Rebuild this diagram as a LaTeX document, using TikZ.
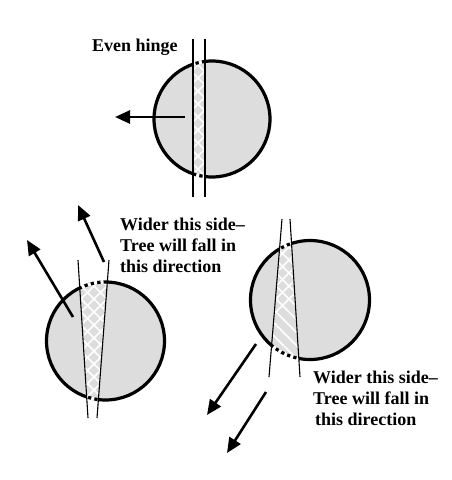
\documentclass[tikz,border=0pt]{standalone}
\usepackage{fontspec}
\setmainfont{Liberation Serif}
\usetikzlibrary{arrows.meta}
\definecolor{woodgray}{RGB}{221,221,221}
\tikzset{
  trunk/.style={fill=woodgray},
  rim/.style={draw=black, line width=3.2pt},
  rimgap/.style={draw=white, line width=3.8pt, dash pattern=on 3pt off 3.5pt},
  cutline/.style={draw=black, line width=1.1pt},
  hatch/.style={draw=white, line width=1.6pt},
  fallarrow/.style={draw=black, line width=2.6pt, -{Triangle[length=15pt,width=13pt]}},
  lbl/.style={font=\bfseries\fontsize{18}{21}\selectfont, inner sep=0pt, align=left}
}
\begin{document}
\begin{tikzpicture}[x=1pt,y=-1pt]
\useasboundingbox (0,0) rectangle (451,480);

% ---------- top circle: even hinge ----------
\coordinate (c1) at (212,119);
\coordinate (a1t) at (193,39); \coordinate (a1b) at (193,197);
\coordinate (b1t) at (205,39); \coordinate (b1b) at (205,197);
\fill[trunk] (c1) circle (58);
\begin{scope}
  \clip (c1) circle (58);
  \clip (a1t) -- (b1t) -- (b1b) -- (a1b) -- cycle;
  \foreach \i in {-400,-387,...,600} {
    \draw[hatch] (\i,0) -- ++(480,480);
    \draw[hatch] (\i,0) -- ++(-480,480);
  }
\end{scope}
\draw[rim] (c1) circle (58);
\begin{scope}
  \clip (a1t) -- (b1t) -- (b1b) -- (a1b) -- cycle;
  \draw[rimgap] (c1) circle (58);
\end{scope}
\draw[cutline] (a1t) -- (a1b);
\draw[cutline] (b1t) -- (b1b);
\coordinate (f1s) at (185,117); \coordinate (f1e) at (115,117);
\draw[fallarrow] (f1s) -- (f1e);
\node[lbl, anchor=base west] (even) at (92,51) {Even hinge};

% ---------- bottom-left circle ----------
\coordinate (c2) at (105.5,341);
\coordinate (a2t) at (78,260); \coordinate (a2b) at (88,418);
\coordinate (b2t) at (109,260); \coordinate (b2b) at (97,418);
\fill[trunk] (c2) circle (59);
\begin{scope}
  \clip (c2) circle (59);
  \clip (a2t) -- (b2t) -- (b2b) -- (a2b) -- cycle;
  \foreach \i in {-400,-387,...,600} {
    \draw[hatch] (\i,0) -- ++(480,480);
    \draw[hatch] (\i,0) -- ++(-480,480);
  }
\end{scope}
\draw[rim] (c2) circle (59);
\begin{scope}
  \clip (a2t) -- (b2t) -- (b2b) -- (a2b) -- cycle;
  \draw[rimgap] (c2) circle (59);
\end{scope}
\draw[cutline] (a2t) -- (a2b);
\draw[cutline] (b2t) -- (b2b);
\coordinate (f2s) at (73,317); \coordinate (f2e) at (27,240);
\coordinate (f3s) at (104,262); \coordinate (f3e) at (78,205);
\draw[fallarrow] (f2s) -- (f2e);
\draw[fallarrow] (f3s) -- (f3e);
\node[lbl, anchor=north west] (wl) at (120,217.5) {Wider this side--\\Tree will fall in\\this direction};

% ---------- bottom-right circle ----------
\coordinate (c3) at (310,300);
\coordinate (a3t) at (282,219); \coordinate (a3b) at (269,377);
\coordinate (b3t) at (290,219); \coordinate (b3b) at (300,377);
\fill[trunk] (c3) circle (59.5);
\begin{scope}
  \clip (c3) circle (59.5);
  \clip (a3t) -- (b3t) -- (b3b) -- (a3b) -- cycle;
  \foreach \i in {-400,-387,...,600} {
    \draw[hatch] (\i,0) -- ++(480,480);
    \draw[hatch] (\i,0) -- ++(-480,480);
  }
\end{scope}
\draw[rim] (c3) circle (59.5);
\begin{scope}
  \clip (a3t) -- (b3t) -- (b3b) -- (a3b) -- cycle;
  \draw[rimgap] (c3) circle (59.5);
\end{scope}
\draw[cutline] (a3t) -- (a3b);
\draw[cutline] (b3t) -- (b3b);
\coordinate (f4s) at (256,344); \coordinate (f4e) at (207,415);
\coordinate (f5s) at (266,392); \coordinate (f5e) at (227,453);
\draw[fallarrow] (f4s) -- (f4e);
\draw[fallarrow] (f5s) -- (f5e);
\node[lbl, anchor=north west] (wr) at (313,370.5) {Wider this side--\\Tree will fall in\\\hspace{2pt}this direction};
\end{tikzpicture}
\end{document}
